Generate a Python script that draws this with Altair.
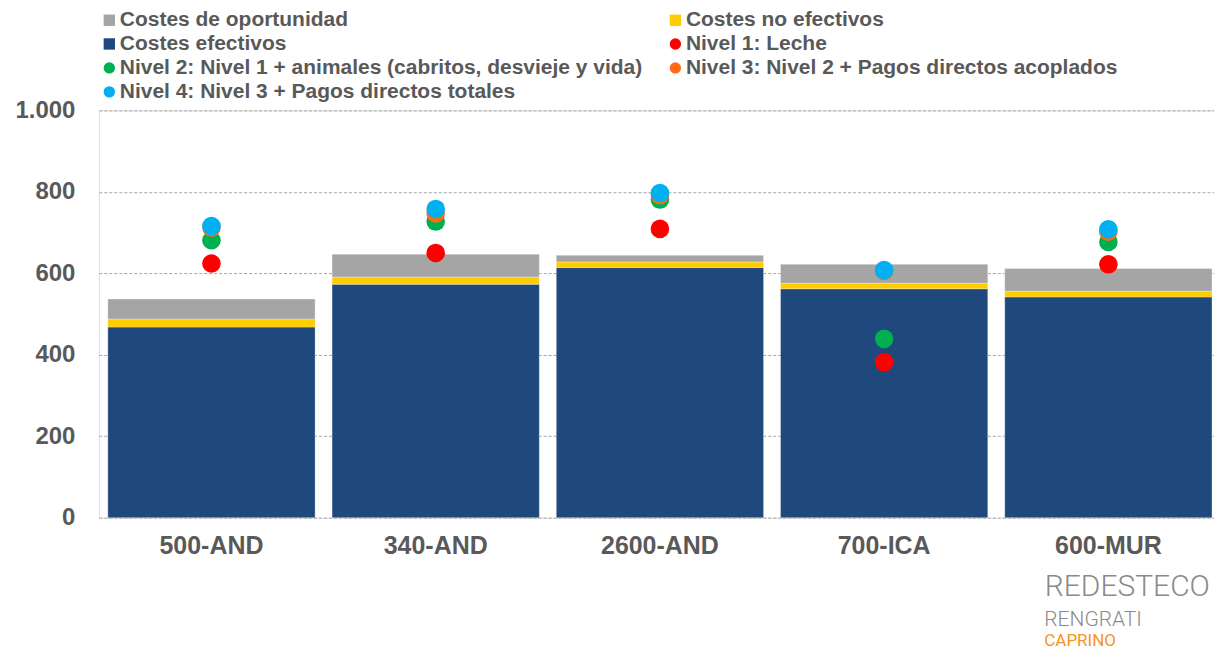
import altair as alt
import pandas as pd

categories = ["500-AND", "340-AND", "2600-AND", "700-ICA", "600-MUR"]

# stacked cost components
costes_efectivos = [468, 573, 614, 562, 542]
costes_no_efectivos = [20, 18, 14, 14, 14]
costes_oportunidad = [49, 56, 16, 46, 56]

# income levels (points)
nivel1 = [624, 650, 709, 382, 622]
nivel2 = [681, 727, 781, 439, 677]
nivel3 = [712, 747, 792, 606, 702]
nivel4 = [716, 758, 797, 608, 708]

serie_names = [
    "Costes de oportunidad",
    "Costes no efectivos",
    "Costes efectivos",
    "Nivel 1: Leche",
    "Nivel 2: Nivel 1 + animales (cabritos, desvieje y vida)",
    "Nivel 3: Nivel 2 + Pagos directos acoplados",
    "Nivel 4: Nivel 3 + Pagos directos totales",
]
serie_colors = ["#a5a5a5", "#ffcc00", "#1f497d", "#ff0000", "#00b050", "#ff6a13", "#00b0f0"]
serie_shapes = ["square", "square", "square", "circle", "circle", "circle", "circle"]

logo_lines = ["REDESTECO", "RENGRATI", "CAPRINO"]

# legend is filled column by column: reorder so it reads row by row in 2 columns
legend_idx = [0, 2, 4, 6, 1, 3, 5]
dom = [serie_names[i] for i in legend_idx]
dom_colors = [serie_colors[i] for i in legend_idx]
dom_shapes = [serie_shapes[i] for i in legend_idx]

bar_rows = []
for i, c in enumerate(categories):
    for order, (name, vals) in enumerate([
        (serie_names[2], costes_efectivos),
        (serie_names[1], costes_no_efectivos),
        (serie_names[0], costes_oportunidad),
    ]):
        bar_rows.append({"cat": c, "serie": name, "valor": vals[i], "orden": order})
bars_df = pd.DataFrame(bar_rows)

pt_rows = []
for k, vals in enumerate([nivel1, nivel2, nivel3, nivel4]):
    for i, c in enumerate(categories):
        pt_rows.append({"cat": c, "serie": serie_names[3 + k], "valor": vals[i], "orden": k})
pts_df = pd.DataFrame(pt_rows)

TXT = "#595959"
FONT = "Liberation Sans"
LOGO_GRAY = "#8a8a8a"

color_scale = alt.Scale(domain=dom, range=dom_colors)
shape_scale = alt.Scale(domain=dom, range=dom_shapes)

legend = alt.Legend(
    title=None,
    orient="none",
    legendX=0,
    legendY=-101,
    columns=2,
    columnPadding=22,
    rowPadding=2,
    labelFontSize=21,
    labelFont=FONT,
    labelFontWeight="bold",
    labelColor=TXT,
    labelLimit=700,
    labelOffset=0,
    symbolSize=130,
    symbolStrokeWidth=0,
    symbolOpacity=1,
)

x_axis = alt.Axis(
    title=logo_lines[0],
    titleAnchor="end",
    titleAlign="left",
    titleX=947,
    titleFont="Roboto",
    titleFontSize=30,
    titleFontWeight=300,
    titleColor=LOGO_GRAY,
    titlePadding=13,
    labelFontSize=25,
    labelFont=FONT,
    labelFontWeight="bold",
    labelColor=TXT,
    labelPadding=16,
    labelAngle=0,
    domain=False,
    ticks=False,
    grid=False,
)

y_axis = alt.Axis(
    title=None,
    values=[0, 200, 400, 600, 800, 1000],
    labelExpr="replace(format(datum.value, ','), ',', '.')",
    labelFontSize=24,
    labelFont=FONT,
    labelFontWeight="bold",
    labelColor=TXT,
    labelPadding=24,
    minExtent=82,
    maxExtent=82,
    domain=False,
    ticks=False,
    grid=True,
    gridColor="#a6a6a6",
    gridDash=[3, 2],
    gridWidth=1,
)

x_scale = alt.Scale(paddingInner=0.0757, paddingOuter=0.0245, align=0.818)
y_scale = alt.Scale(domain=[0, 1000])

bars = alt.Chart(bars_df).mark_bar(stroke="#ffffff", strokeWidth=0.6, strokeOpacity=0.5).encode(
    x=alt.X("cat:N", sort=categories, scale=x_scale, axis=x_axis),
    y=alt.Y("valor:Q", stack="zero", scale=y_scale, axis=y_axis),
    color=alt.Color("serie:N", scale=color_scale, legend=legend),
    order=alt.Order("orden:Q", sort="ascending"),
)

points = alt.Chart(pts_df).mark_point(filled=True, size=346, opacity=1, strokeWidth=0).encode(
    x=alt.X("cat:N", sort=categories, scale=x_scale, axis=x_axis),
    y=alt.Y("valor:Q", scale=y_scale, axis=y_axis),
    color=alt.Color("serie:N", scale=color_scale, legend=legend),
    shape=alt.Shape("serie:N", scale=shape_scale, legend=legend),
    order=alt.Order("orden:Q"),
)

chart = (
    alt.layer(bars, points)
    .properties(
        width=1117,
        height=408,
        padding={"left": 6, "top": 1, "right": 0, "bottom": 0},
        title=alt.TitleParams(
            text=logo_lines[1],
            subtitle=logo_lines[2],
            orient="bottom",
            anchor="end",
            align="left",
            dx=-170,
            frame="group",
            font="Roboto",
            fontSize=21,
            fontWeight=300,
            color=LOGO_GRAY,
            subtitleFont="Roboto",
            subtitleFontSize=17,
            subtitleColor="#f7941d",
            subtitlePadding=4,
            offset=7,
        ),
    )
    .configure_view(stroke=None)
    .configure(background="white")
)

chart.save("out.html", embed_options={"renderer": "svg", "actions": False})
